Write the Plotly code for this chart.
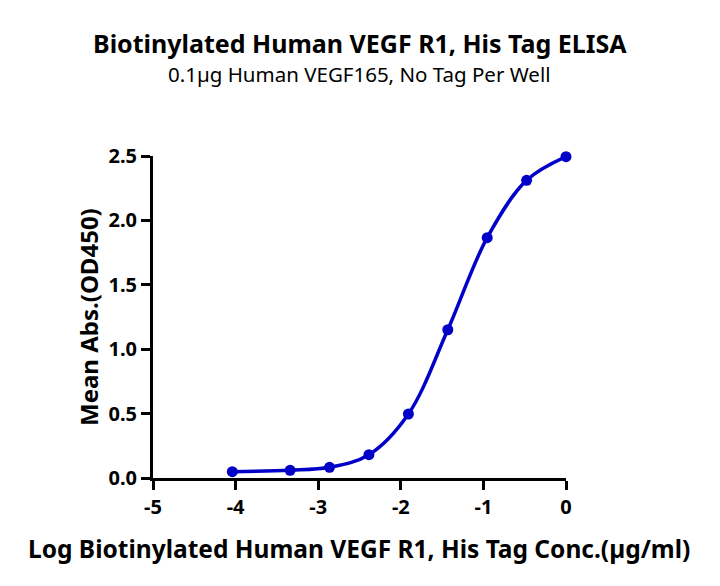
import plotly.graph_objects as go

log_conc = [-4.04, -3.34, -2.863, -2.386, -1.908, -1.431, -0.954, -0.477, 0.0]
mean_abs = [0.049, 0.060, 0.083, 0.181, 0.497, 1.151, 1.866, 2.311, 2.495]

x_ticks = [-5, -4, -3, -2, -1, 0]
y_ticks = [0.0, 0.5, 1.0, 1.5, 2.0, 2.5]

FONT = "Noto Sans, sans-serif"
BLUE = "#0000C8"
W, H = 720, 586
OFF = 8  # page body margin
ML, MT = 153 - OFF, 156 - OFF
PW, PH = 413, 322
MR, MB = W - ML - PW, H - MT - PH

fig = go.Figure()
fig.add_trace(go.Scatter(
    x=log_conc, y=mean_abs, mode="lines",
    line=dict(color=BLUE, width=3.5, shape="spline", smoothing=1.0),
    hoverinfo="skip", cliponaxis=False, showlegend=False))
fig.add_trace(go.Scatter(
    x=log_conc, y=mean_abs, mode="markers",
    marker=dict(color=BLUE, size=11),
    cliponaxis=False, showlegend=False))

def px(pix):
    return (pix - OFF - ML) / PW
def py(pix):
    return (MT + PH - (pix - OFF)) / PH

fig.update_layout(
    width=W, height=H,
    margin=dict(l=ML, r=MR, t=MT, b=MB),
    paper_bgcolor="white", plot_bgcolor="white",
    font=dict(family=FONT, color="black"),
)
fig.add_annotation(text="<b>Biotinylated Human VEGF R1, His Tag ELISA</b>",
                   x=px(360), xref="paper", y=py(43), yref="paper", showarrow=False,
                   font=dict(size=25, family=FONT), xanchor="center", yanchor="middle")
fig.add_annotation(text="0.1µg Human VEGF165, No Tag Per Well",
                   x=px(359), xref="paper", y=py(74), yref="paper", showarrow=False,
                   font=dict(size=20.5, family=FONT), xanchor="center", yanchor="middle")
fig.add_annotation(text="<b>Log Biotinylated Human VEGF R1, His Tag Conc.(µg/ml)</b>",
                   x=px(359), xref="paper", y=py(548), yref="paper", showarrow=False,
                   font=dict(size=24.5, family=FONT), xanchor="center", yanchor="middle")
fig.add_annotation(text="<b>Mean Abs.(OD450)</b>", textangle=-90,
                   x=px(88), xref="paper", y=py(317), yref="paper", showarrow=False,
                   font=dict(size=24, family=FONT), xanchor="center", yanchor="middle")

fig.update_xaxes(
    range=[-5, 0], tickvals=x_ticks, ticktext=[str(v) for v in x_ticks],
    showline=True, linecolor="black", linewidth=3,
    ticks="outside", ticklen=9, tickwidth=3, tickcolor="black",
    showgrid=False, zeroline=False, automargin=False,
    tickfont=dict(size=20, family=FONT, weight="bold"),
)
fig.update_yaxes(
    range=[0, 2.5], tickvals=y_ticks, ticktext=[f"{v:.1f}" for v in y_ticks],
    showline=True, linecolor="black", linewidth=3,
    ticks="outside", ticklen=9, tickwidth=3, tickcolor="black",
    showgrid=False, zeroline=False, automargin=False,
    tickfont=dict(size=20, family=FONT, weight="bold"),
)

fig.write_html("out.html")
